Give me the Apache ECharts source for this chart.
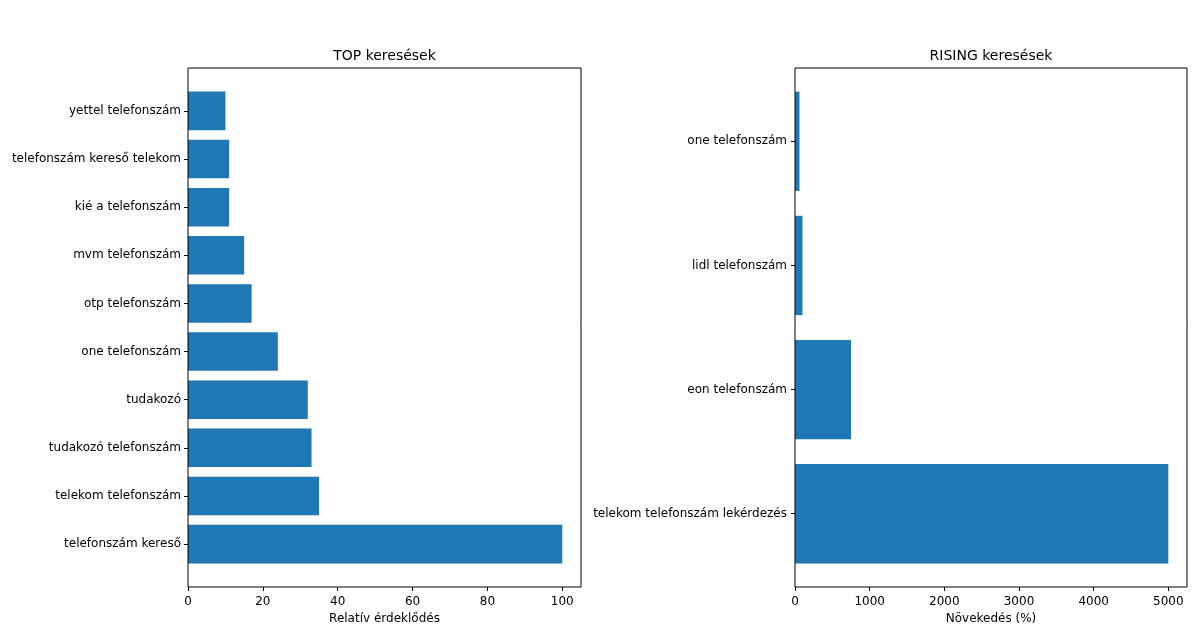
<!DOCTYPE html>
<html>
<head>
<meta charset="utf-8">
<script src="https://cdn.jsdelivr.net/npm/echarts@6/dist/echarts.min.js"></script>
<style>html,body{margin:0;padding:0;background:#fff;}#c{width:1200px;height:630px;}</style>
</head>
<body>
<div id="c"></div>
<script>
// ---- data (bottom to top, as drawn) ----
const mainTitle = "Telefonszám keresések (Hungary) – Google Trends (HU)";
const topTitle = "TOP keresések";
const risingTitle = "RISING keresések";
const topCategories = ["telefonszám kereső", "telekom telefonszám", "tudakozó telefonszám", "tudakozó", "one telefonszám", "otp telefonszám", "mvm telefonszám", "kié a telefonszám", "telefonszám kereső telekom", "yettel telefonszám"];
const topValues = [100, 35, 33, 32, 24, 17, 15, 11, 11, 10];
const risingCategories = ["telekom telefonszám lekérdezés", "eon telefonszám", "lidl telefonszám", "one telefonszám"];
const risingValues = [5000, 750, 100, 60];
const topAxisName = "Relatív érdeklődés";
const risingAxisName = "Növekedés (%)";

const FONT = "DejaVu Sans";
const BLUE = "#1f77b4";
const txt = {color: "#000", fontFamily: FONT, fontSize: 12};

const chart = echarts.init(document.getElementById("c"), null, {renderer: "canvas"});

function frameX(gridIndex, max, interval, name, nameGap) {
  return {
    type: "value", gridIndex, min: 0, max, interval,
    axisLine: {show: false},
    axisTick: {show: true, length: 4, lineStyle: {color: "#000", width: 1}},
    axisLabel: Object.assign({margin: 9, showMaxLabel: false, formatter: v => String(v)}, txt),
    splitLine: {show: false},
    name, nameLocation: "middle", nameGap,
    nameTextStyle: Object.assign({}, txt)
  };
}
function hiddenX(gridIndex, max) {
  return {type: "value", gridIndex, min: 0, max, show: false, splitLine: {show: false}};
}

const option = {
  backgroundColor: "#fff",
  animation: false,
  grid: [
    // frames (full axes boxes)
    {left: 188, right: 619, top: 68, bottom: 43, show: true, borderColor: "#000", borderWidth: 1, z: 5, backgroundColor: "transparent"},
    {left: 795, right: 13, top: 68, bottom: 43, show: true, borderColor: "#000", borderWidth: 1, z: 5, backgroundColor: "transparent"},
    // data areas (matplotlib margins inside the frame)
    {left: 188, right: 619, top: 86.8, bottom: 61.8},
    {left: 795, right: 13, top: 79.2, bottom: 54.2}
  ],
  xAxis: [
    frameX(0, 105, 20, topAxisName, 23),
    frameX(1, 5250, 1000, risingAxisName, 23),
    hiddenX(2, 105),
    hiddenX(3, 5250)
  ],
  yAxis: [
    {type: "value", gridIndex: 0, show: false, splitLine: {show: false}},
    {type: "value", gridIndex: 1, show: false, splitLine: {show: false}},
    {type: "category", gridIndex: 2, data: topCategories,
      axisLine: {show: false},
      axisTick: {show: true, alignWithLabel: true, length: 4, lineStyle: {color: "#000"}},
      axisLabel: Object.assign({margin: 7, interval: 0}, txt)},
    {type: "category", gridIndex: 3, data: risingCategories,
      axisLine: {show: false},
      axisTick: {show: true, alignWithLabel: true, length: 4, lineStyle: {color: "#000"}},
      axisLabel: Object.assign({margin: 8, interval: 0}, txt)}
  ],
  series: [
    {type: "bar", xAxisIndex: 2, yAxisIndex: 2, data: topValues, barWidth: "80%", itemStyle: {color: BLUE}},
    {type: "bar", xAxisIndex: 3, yAxisIndex: 3, data: risingValues, barWidth: "80%", itemStyle: {color: BLUE}}
  ],
  graphic: [
    {type: "text", x: 600, y: 1, style: {text: mainTitle, align: "center", verticalAlign: "bottom", fill: "#000", font: "16.5px 'DejaVu Sans'"}},
    {type: "text", x: 384.5, y: 56.5, style: {text: topTitle, align: "center", verticalAlign: "middle", fill: "#000", font: "14px 'DejaVu Sans'"}},
    {type: "text", x: 991, y: 56.5, style: {text: risingTitle, align: "center", verticalAlign: "middle", fill: "#000", font: "14px 'DejaVu Sans'"}}
  ]
};
chart.setOption(option);
</script>
</body>
</html>
